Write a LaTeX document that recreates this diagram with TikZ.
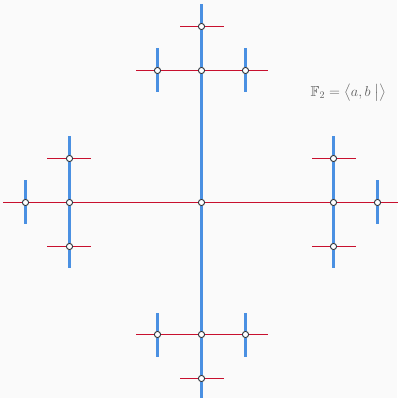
\documentclass[tikz,border=0pt]{standalone}
\usepackage{tikz}
\usetikzlibrary{positioning}
\usepackage{amsmath}
\usepackage{amssymb}

\definecolor{edgered}{RGB}{200,16,46}
\definecolor{edgeblue}{RGB}{74,144,226}
\definecolor{vertrim}{RGB}{45,52,60}
\definecolor{labgray}{RGB}{95,95,95}
\definecolor{bgpaper}{RGB}{250,250,250}

\tikzset{
    vert/.style={circle,draw=vertrim,fill=white,line width=0.9pt,inner sep=0pt,minimum size=6.2pt},
    redline/.style={draw=edgered,line width=1.2pt},
    blueline/.style={draw=edgeblue,line width=2.1pt}
}

\begin{document}
\begin{tikzpicture}[x=1pt,y=1pt,on grid]
        \fill[bgpaper] (-201.5,-195.5) rectangle (195.5,202.5);
        \useasboundingbox (-201.5,-195.5) rectangle (195.5,202.5);
        % identity and first level
        \node[vert] (e) at (0,0) {};
        \node[vert,right=132pt of e] (a) {};
        \node[vert,left=132pt of e] (A) {};
        \node[vert,above=132pt of e] (b) {};
        \node[vert,below=132pt of e] (B) {};
        % second level
        \node[vert,right=44pt of a] (aa) {};
        \node[vert,above=44pt of a] (ab) {};
        \node[vert,below=44pt of a] (aB) {};
        \node[vert,left=44pt of A] (AA) {};
        \node[vert,above=44pt of A] (Ab) {};
        \node[vert,below=44pt of A] (AB) {};
        \node[vert,above=44pt of b] (bb) {};
        \node[vert,right=44pt of b] (ba) {};
        \node[vert,left=44pt of b] (bA) {};
        \node[vert,below=44pt of B] (BB) {};
        \node[vert,right=44pt of B] (Ba) {};
        \node[vert,left=44pt of B] (BA) {};
        % third level, only stubs
        \foreach \v/\w in {aa/aaa,ab/aba,aB/aBa,Ab/Aba,AB/ABa,ba/baa,Ba/Baa,bb/bba,BB/BBa}
            \coordinate[right=22pt of \v] (\w);
        \foreach \v/\w in {AA/AAA,ab/abA,aB/aBA,Ab/AbA,AB/ABA,bA/bAA,BA/BAA,bb/bbA,BB/BBA}
            \coordinate[left=22pt of \v] (\w);
        \foreach \v/\w in {bb/bbb,ba/bab,bA/bAb,Ba/Bab,BA/BAb,ab/abb,Ab/Abb,aa/aab,AA/AAb}
            \coordinate[above=22pt of \v] (\w);
        \foreach \v/\w in {BB/BBB,ba/baB,bA/bAB,Ba/BaB,BA/BAB,aB/aBB,AB/ABB,aa/aaB,AA/AAB}
            \coordinate[below=22pt of \v] (\w);
        % a edges
        \foreach \u/\w in {e/a,e/A,a/aa,A/AA,ab/aba,ab/abA,aB/aBa,aB/aBA,Ab/Aba,Ab/AbA,AB/ABa,AB/ABA,
                b/ba,b/bA,B/Ba,B/BA,aa/aaa,AA/AAA,ba/baa,bA/bAA,Ba/Baa,BA/BAA,bb/bba,bb/bbA,BB/BBa,BB/BBA}
            \draw[redline] (\u) -- (\w);
        % b edges
        \foreach \u/\w in {e/b,e/B,b/bb,B/BB,ba/bab,ba/baB,bA/bAb,bA/bAB,Ba/Bab,Ba/BaB,BA/BAb,BA/BAB,
                a/ab,a/aB,A/Ab,A/AB,bb/bbb,BB/BBB,ab/abb,aB/aBB,Ab/Abb,AB/ABB,aa/aab,aa/aaB,AA/AAb,AA/AAB}
            \draw[blueline] (\u) -- (\w);
        \node[text=labgray,font=\fontsize{14.5}{16}\selectfont] (pres) at (147,109.5)
            {$\mathbb{F}_2 = \bigl\langle a, b \bigm| \bigr\rangle$};
    \end{tikzpicture}
\end{document}
